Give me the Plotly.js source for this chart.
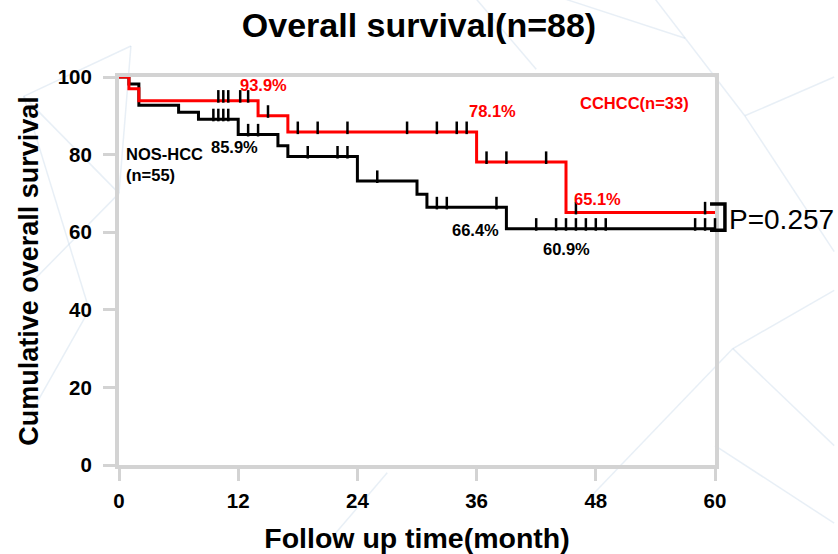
<!DOCTYPE html>
<html>
<head>
<meta charset="utf-8">
<script src="https://cdn.plot.ly/plotly-3.0.1.min.js"></script>
<style>html,body{margin:0;padding:0;background:#fff;}#chart{width:838px;height:554px;}</style>
</head>
<body>
<div id="chart"></div>
<script>
// ---- data ----
const monthTicks = [0, 12, 24, 36, 48, 60];
const survTicks = [0, 20, 40, 60, 80, 100];

const cchccTimes = [0, 1, 2, 14, 17, 36, 45, 60];
const cchccSurv  = [100, 97.0, 93.9, 90.0, 85.8, 78.1, 65.1, 65.1];
const cchccCensor = [10, 10.5, 11, 12.2, 13, 15, 18, 20, 23, 29, 32, 34, 35, 37, 39, 43, 46, 59];

const nosTimes = [0, 1, 2, 6, 8, 12, 16, 17, 24, 30, 31, 39, 60];
const nosSurv  = [100, 98.2, 92.7, 90.9, 89.1, 85.2, 82.3, 79.5, 73.2, 69.8, 66.4, 60.9, 60.9];
const nosCensor = [9.5, 10, 10.5, 11, 13, 14, 19, 22, 23, 26, 32, 33, 38, 42, 44, 45, 46, 47, 48, 49, 58, 59, 60];

const pValueText = "P=0.257";

// ---- helpers ----
function survAt(times, surv, t) {
  let v = surv[0];
  for (let i = 0; i < times.length; i++) if (times[i] <= t) v = surv[i];
  return v;
}
const tickLift = 1.1;
const FONT = "Liberation Sans, Arial, Helvetica, sans-serif";

const traces = [
  {x: nosTimes, y: nosSurv, mode: "lines", line: {shape: "hv", color: "#000000", width: 3},
   cliponaxis: false, name: "NOS-HCC", showlegend: false, hoverinfo: "skip"},
  {x: cchccTimes, y: cchccSurv, mode: "lines", line: {shape: "hv", color: "#ff0000", width: 3},
   cliponaxis: false, name: "CCHCC", showlegend: false, hoverinfo: "skip"},
  {x: nosCensor, y: nosCensor.map(t => survAt(nosTimes, nosSurv, t) + tickLift), mode: "markers",
   marker: {symbol: "line-ns", size: 9, line: {color: "#000", width: 2.5}}, cliponaxis: false,
   showlegend: false, hoverinfo: "skip"},
  {x: cchccCensor, y: cchccCensor.map(t => survAt(cchccTimes, cchccSurv, t) + tickLift), mode: "markers",
   marker: {symbol: "line-ns", size: 9, line: {color: "#000", width: 2.5}}, cliponaxis: false,
   showlegend: false, hoverinfo: "skip"}
];

// bracket for p-value, derived from the end values of both curves
const xEnd = monthTicks[monthTicks.length - 1];
const redEnd = cchccSurv[cchccSurv.length - 1];
const blackEnd = nosSurv[nosSurv.length - 1];
const toPaperX = v => v / xEnd;
const bx0 = toPaperX(xEnd - 0.5), bx1 = toPaperX(xEnd + 1.0);
const by0 = (blackEnd - 0.4) / 100, by1 = (redEnd + 2.2) / 100;

// faint decorative background network
const bg = "rgba(190,210,230,0.35)";
const bgLines = [
  [-0.16, 0.95, 0.02, 1.08], [-0.16, 0.95, 0.0, 0.7], [-0.16, 0.95, -0.05, 0.4], [0.0, 0.7, 0.02, 1.08],
  [-0.16, 0.45, 0.0, 0.7], [-0.16, 0.1, -0.05, 0.4], [0.75, 1.2, 0.95, 1.1], [0.9, 1.2, 1.05, 0.9],
  [1.05, 0.9, 1.2, 1.0], [1.05, 0.9, 1.2, 0.55], [1.03, 0.3, 1.2, 0.45], [1.03, 0.3, 1.2, 0.05],
  [1.0, 0.05, 1.2, -0.15], [0.6, 1.2, 0.7, 1.02], [0.78, -0.1, 1.03, 0.3], [0.35, -0.2, 0.45, -0.02]
];
const shapes = bgLines.map(([x0, y0, x1, y1]) => ({
  type: "line", xref: "paper", yref: "paper", x0, y0, x1, y1, layer: "below",
  line: {color: bg, width: 1.5}
}));
shapes.push({
  type: "path", xref: "paper", yref: "paper",
  path: `M ${bx0} ${by1} L ${bx1} ${by1} L ${bx1} ${by0} L ${bx0} ${by0}`,
  line: {color: "#000", width: 3.5}
});

const lab = (text, x, y, color, extra) => Object.assign({
  text, x, y, xref: "x", yref: "y", showarrow: false,
  font: {family: FONT, size: 16.5, color, weight: "bold"}
}, extra || {});

const annotations = [
  lab("93.9%", 14.5, 98.0, "#ff0000"),
  lab("78.1%", 37.6, 91.2, "#ff0000"),
  lab("65.1%", 48.2, 68.6, "#ff0000"),
  lab("CCHCC(n=33)", 51.9, 93.3, "#ff0000"),
  lab("NOS-HCC<br>(n=55)", 0.55, 77.4, "#000000", {xanchor: "left", align: "left"}),
  lab("85.9%", 11.6, 81.9, "#000000"),
  lab("66.4%", 35.9, 60.6, "#000000"),
  lab("60.9%", 45.0, 55.6, "#000000"),
  {text: pValueText, x: toPaperX(xEnd + 1.2), y: 0.634, xref: "paper", yref: "paper", xanchor: "left",
   yanchor: "middle", showarrow: false, font: {family: FONT, size: 28, color: "#000"}}
];

const axisCommon = {
  showline: true, linecolor: "#d3d3d3", linewidth: 4, mirror: true,
  ticks: "outside", tickcolor: "#d3d3d3", tickwidth: 3, ticklen: 12,
  showgrid: false, zeroline: false, layer: "below traces",
  tickfont: {family: FONT, size: 20.5, color: "#000", weight: "bold"}
};

const layout = {
  width: 838, height: 554,
  margin: {l: 119, r: 123, t: 77, b: 89},
  paper_bgcolor: "#ffffff", plot_bgcolor: "rgba(0,0,0,0)",
  title: {text: "Overall survival(n=88)", x: 0.5, xanchor: "center", y: 0.955, yref: "container", yanchor: "middle",
          font: {family: FONT, size: 34, color: "#000", weight: "bold"}},
  xaxis: Object.assign({}, axisCommon, {
    range: [0, 60], tickvals: monthTicks, ticktext: monthTicks.map(String), ticklabelstandoff: 2,
    title: {text: "Follow up time(month)", standoff: 18, font: {family: FONT, size: 28.5, color: "#000", weight: "bold"}}
  }),
  yaxis: Object.assign({}, axisCommon, {
    range: [0, 100], tickvals: survTicks, ticktext: survTicks.map(String), ticklabelstandoff: 7,
    title: {text: "Cumulative overall survival", standoff: 12, font: {family: FONT, size: 27, color: "#000", weight: "bold"}}
  }),
  shapes, annotations, showlegend: false
};

Plotly.newPlot("chart", traces, layout, {displayModeBar: false, staticPlot: true});
</script>
</body>
</html>
